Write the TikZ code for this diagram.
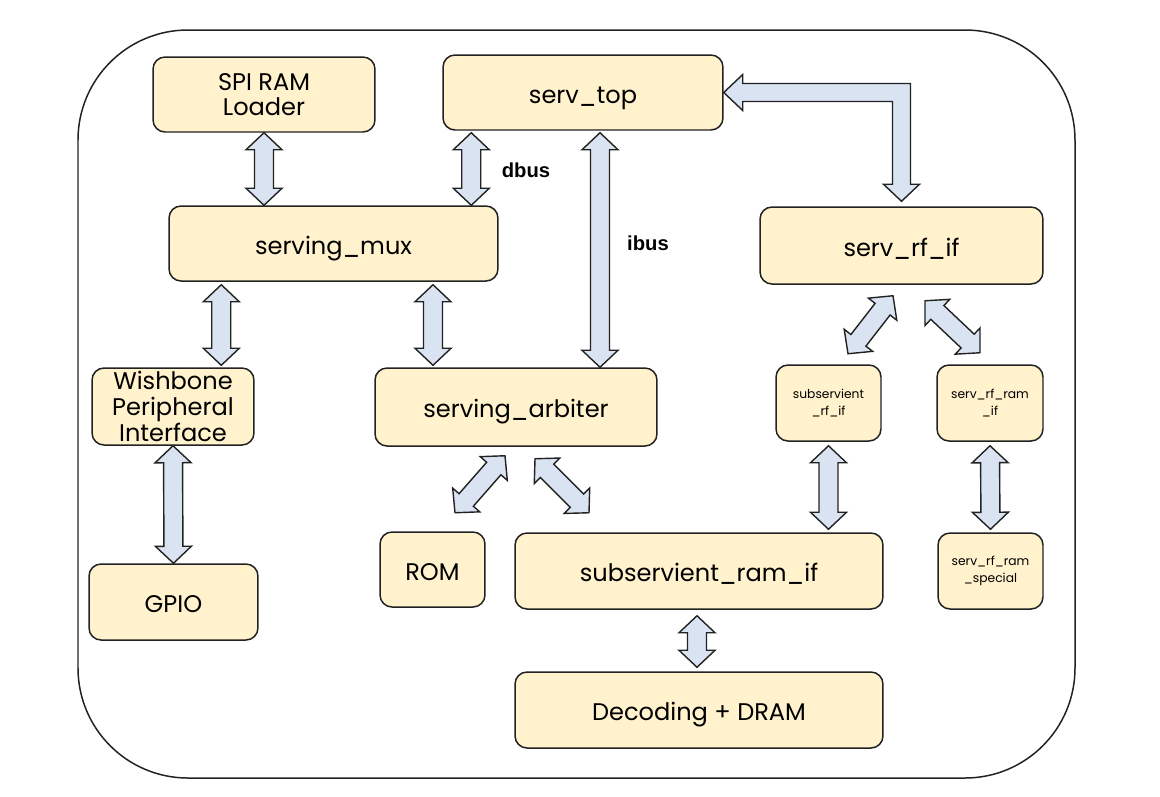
\documentclass[tikz,border=0pt]{standalone}
\usepackage{fontspec}
\setmainfont{Poppins}
\newfontfamily\labelfont{Liberation Sans}
\usetikzlibrary{calc}
\definecolor{boxfill}{HTML}{FFF2CC}
\definecolor{arrowfill}{HTML}{DAE3F1}
\definecolor{edge}{HTML}{222222}
\newcommand\headlen{0.34cm}
\newcommand\headwid{0.36cm}
\newcommand\shaftwid{0.19cm}
\newcommand\fatarrow[2]{%
  \filldraw[bigarrow] (#1)
    -- ($(#1)!\headlen!(#2)!\headwid!90:(#2)$)
    -- ($(#1)!\headlen!(#2)!\shaftwid!90:(#2)$)
    -- ($(#2)!\headlen!(#1)!\shaftwid!-90:(#1)$)
    -- ($(#2)!\headlen!(#1)!\headwid!-90:(#1)$)
    -- (#2)
    -- ($(#2)!\headlen!(#1)!\headwid!90:(#1)$)
    -- ($(#2)!\headlen!(#1)!\shaftwid!90:(#1)$)
    -- ($(#1)!\headlen!(#2)!\shaftwid!-90:(#2)$)
    -- ($(#1)!\headlen!(#2)!\headwid!-90:(#2)$)
    -- cycle;}

\begin{document}
\begin{tikzpicture}[x=0.02cm, y=-0.02cm,
    box/.style={draw=edge, fill=boxfill, rounded corners=0.24cm, line width=0.85pt,
      align=center, inner sep=0pt, font=\fontsize{13.7}{14.6}\selectfont},
    blk/.style={box, text height=0.42cm, text depth=0pt},
    smallblk/.style={box, font=\fontsize{7}{10}\selectfont},
    bigarrow/.style={draw=edge, fill=arrowfill, line width=0.8pt, line join=miter},
    buslabel/.style={font=\labelfont\bfseries\fontsize{11.5}{14}\selectfont}]

  \path[use as bounding box] (0,0) rectangle (1160,796);
  \draw[edge, line width=0.85pt, rounded corners=2.2cm] (78,30) rectangle (1075,778);

  \node[box, minimum width=4.44cm, minimum height=1.5cm]  (spi)   at (264,94.5)   {SPI RAM\\Loader};
  \node[blk, minimum width=5.6cm,  minimum height=1.5cm]  (top)   at (583,92.5)   {serv\_top};
  \node[blk, minimum width=6.58cm, minimum height=1.5cm]  (mux)   at (333.5,243.5) {serving\_mux};
  \node[blk, minimum width=5.66cm, minimum height=1.54cm] (rfif)  at (901.5,245.5) {serv\_rf\_if};
  \node[box, minimum width=3.24cm, minimum height=1.54cm] (wb)    at (173,406.5)  {Wishbone\\Peripheral\\Interface};
  \node[blk, minimum width=5.64cm, minimum height=1.56cm] (arb)   at (516,407)    {serving\_arbiter};
  \node[smallblk, minimum width=2.1cm,  minimum height=1.52cm] (subrf) at (828.5,403) {subservient\\\_rf\_if};
  \node[smallblk, minimum width=2.12cm, minimum height=1.52cm] (ramif) at (990,403)   {serv\_rf\_ram\\\_if};
  \node[blk, minimum width=3.38cm, minimum height=1.52cm] (gpio)  at (173.5,602)  {GPIO};
  \node[blk, minimum width=2.1cm,  minimum height=1.5cm]  (rom)   at (432.5,569.5) {ROM};
  \node[blk, minimum width=7.36cm, minimum height=1.52cm] (subram) at (699,571)   {subservient\_ram\_if};
  \node[smallblk, minimum width=2.1cm, minimum height=1.52cm] (special) at (990.5,571) {serv\_rf\_ram\\\_special};
  \node[blk, minimum width=7.36cm, minimum height=1.52cm] (dram)  at (699,710)    {Decoding + DRAM};

  \node[buslabel] (dbus) at (526,170) {dbus};
  \node[buslabel] (ibus) at (648,243) {ibus};

  \coordinate (dbusA) at ($(top.south west)+(29,2)$);
  \coordinate (dbusB) at (dbusA |- mux.north);
  \coordinate (ibusA) at ($(top.south)+(17,2)$);
  \coordinate (ibusB) at (ibusA |- arb.north);
  \coordinate (wbA)   at ($(mux.south west)+(53,3)$);
  \coordinate (wbB)   at ($(wbA |- wb.north)+(0,-2)$);
  \coordinate (arbA)  at ($(mux.south)+(99.5,3)$);
  \coordinate (arbB)  at ($(arbA |- arb.north)+(0,-2)$);
  \coordinate (romA)  at ($(arb.south)+(-11,9)$);
  \coordinate (romB)  at ($(arb.south)+(-61,66)$);
  \coordinate (ramA)  at ($(arb.south)+(19,12)$);
  \coordinate (ramB)  at ($(arb.south)+(73,66)$);
  \coordinate (rfA)   at ($(rfif.south)+(-8.5,11)$);
  \coordinate (rfB)   at ($(rfif.south)+(-53.5,69)$);
  \coordinate (rrA)   at ($(rfif.south)+(23.5,16)$);
  \coordinate (rrB)   at ($(rfif.south)+(78.5,68)$);
  \coordinate (subA)  at ($(subrf.south)+(0,4)$);
  \coordinate (subB)  at ($(subA |- subram.north)+(0,-3)$);
  \coordinate (spA)   at ($(ramif.south)+(0,4)$);
  \coordinate (spB)   at ($(special.north)+(0,-3)$);
  \coordinate (drA)   at ($(subram.south)+(-2,6)$);
  \coordinate (drB)   at ($(dram.north)+(-2,-4)$);
  \coordinate (rfN)   at ($(rfif.north)+(0,-5)$);
  \coordinate (elbow) at (rfN |- top.east);

  \fatarrow{spi.south}{spi.south |- mux.north}
  \fatarrow{dbusA}{dbusB}
  \fatarrow{ibusA}{ibusB}
  \fatarrow{wbA}{wbB}
  \fatarrow{arbA}{arbB}
  \fatarrow{wb.south}{gpio.north}
  \fatarrow{romA}{romB}
  \fatarrow{ramA}{ramB}
  \fatarrow{rfA}{rfB}
  \fatarrow{rrA}{rrB}
  \fatarrow{subA}{subB}
  \fatarrow{spA}{spB}
  \fatarrow{drA}{drB}

  \filldraw[bigarrow] (top.east) -- ($(top.east)+(19,-18)$) -- ($(top.east)+(19,-9)$)
    -- ($(elbow)+(9,-9)$) -- ($(rfN)+(9,-17)$) -- ($(rfN)+(18,-17)$) -- (rfN)
    -- ($(rfN)+(-18,-17)$) -- ($(rfN)+(-9,-17)$) -- ($(elbow)+(-9,9)$)
    -- ($(top.east)+(19,9)$) -- ($(top.east)+(19,18)$) -- cycle;
\end{tikzpicture}
\end{document}
